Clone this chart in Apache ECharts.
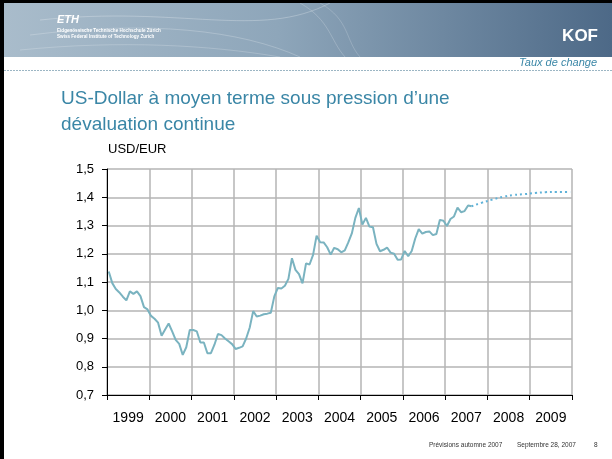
<!DOCTYPE html>
<html>
<head>
<meta charset="utf-8">
<script src="https://cdn.jsdelivr.net/npm/echarts@6/dist/echarts.min.js"></script>
<style>
html,body{margin:0;padding:0;background:#fff;}
#chart{width:612px;height:459px;}
</style>
</head>
<body>
<div id="chart"></div>
<script>
// ---- data (end-of-month USD/EUR) ----
var years = ['1999','2000','2001','2002','2003','2004','2005','2006','2007','2008','2009'];
var rates1999 = [1.137, 1.096, 1.075, 1.063, 1.048, 1.035, 1.067, 1.058, 1.067, 1.050, 1.011, 1.003];
var rates2000 = [0.980, 0.970, 0.956, 0.910, 0.932, 0.953, 0.925, 0.895, 0.881, 0.842, 0.869, 0.930];
var rates2001 = [0.930, 0.925, 0.886, 0.886, 0.848, 0.848, 0.878, 0.916, 0.912, 0.900, 0.890, 0.880];
var rates2002 = [0.863, 0.867, 0.872, 0.900, 0.938, 0.997, 0.978, 0.981, 0.986, 0.988, 0.991, 1.049];
var rates2003 = [1.079, 1.077, 1.087, 1.111, 1.184, 1.143, 1.128, 1.095, 1.166, 1.162, 1.196, 1.264];
var rates2004 = [1.241, 1.240, 1.223, 1.197, 1.221, 1.216, 1.205, 1.212, 1.240, 1.272, 1.327, 1.362];
var rates2005 = [1.303, 1.327, 1.296, 1.294, 1.235, 1.209, 1.214, 1.222, 1.204, 1.200, 1.179, 1.180];
var rates2006 = [1.210, 1.191, 1.210, 1.254, 1.287, 1.271, 1.277, 1.279, 1.266, 1.270, 1.320, 1.317];
var rates2007 = [1.298, 1.323, 1.332, 1.363, 1.347, 1.351, 1.371, 1.368];
// forecast (dotted), month index counted from Jan 1999 = 0
var forecastMonths = [103, 106, 109, 112, 115, 118, 121, 124, 127, 131];
var forecastValues = [1.368, 1.381, 1.392, 1.402, 1.408, 1.411, 1.415, 1.418, 1.419, 1.419];
var yTicks = [0.7, 0.8, 0.9, 1.0, 1.1, 1.2, 1.3, 1.4, 1.5];

// ---- build series ----
var actual = [].concat(rates1999, rates2000, rates2001, rates2002, rates2003,
                       rates2004, rates2005, rates2006, rates2007);
var actualData = actual.map(function (v, i) { return [i + 0.5, v]; });
var forecastData = forecastMonths.map(function (m, i) { return [m + 0.5, forecastValues[i]]; });

var chart = echarts.init(document.getElementById('chart'), null, {renderer: 'canvas'});
var font = '"Liberation Sans", Arial, sans-serif';

var option = {
  backgroundColor: '#ffffff',
  animation: false,
  textStyle: {fontFamily: font},
  title: {
    text: 'US-Dollar à moyen terme sous pression d\u2019une\ndévaluation continue',
    left: 56, top: 81,
    textStyle: {fontFamily: font, fontSize: 19, fontWeight: 'normal', color: '#3a86a6', lineHeight: 26}
  },
  grid: {left: 107, right: 40, top: 169, bottom: 64, containLabel: false},
  xAxis: [{
    type: 'category',
    data: years,
    boundaryGap: true,
    axisLine: {show: true, lineStyle: {color: '#000', width: 1}},
    axisTick: {show: true, length: 5, interval: 0, lineStyle: {color: '#000'}},
    axisLabel: {interval: 0, fontSize: 14, color: '#000', margin: 16, fontFamily: font},
    splitLine: {show: true, interval: 0, lineStyle: {color: '#b4b4b4', width: 1.5}}
  }, {
    type: 'value',
    min: 0, max: 132,
    show: false,
    splitLine: {show: false}
  }],
  yAxis: {
    type: 'value',
    min: 0.7, max: 1.5, interval: 0.1,
    axisLine: {show: true, lineStyle: {color: '#000', width: 1}},
    axisTick: {show: true, length: 5, lineStyle: {color: '#000'}},
    axisLabel: {
      fontSize: 13, color: '#000', margin: 13, fontFamily: font,
      formatter: function (v) { return v.toFixed(1).replace('.', ','); }
    },
    splitLine: {show: true, lineStyle: {color: '#b4b4b4', width: 1.5}}
  },
  series: [{
    type: 'line',
    xAxisIndex: 1,
    data: actualData,
    showSymbol: false,
    lineStyle: {color: '#7ab3c0', width: 2},
    z: 3
  }, {
    type: 'line',
    xAxisIndex: 1,
    data: forecastData,
    showSymbol: false,
    smooth: true,
    lineStyle: {color: '#5fb2d8', width: 2, type: [2, 3]},
    z: 3
  }],
  graphic: [
    // banner
    {type: 'rect', shape: {x: 4, y: 3, width: 608, height: 54}, silent: true,
     style: {fill: {type: 'linear', x: 0, y: 0, x2: 1, y2: 0, colorStops: [
       {offset: 0, color: '#a9bccb'}, {offset: 0.45, color: '#8ea6ba'}, {offset: 1, color: '#4d6987'}]}}},
    {type: 'bezierCurve', shape: {x1: 40, y1: 20, x2: 330, y2: 3, cpx1: 180, cpy1: 5, cpx2: 260, cpy2: 40},
     style: {stroke: 'rgba(255,255,255,0.25)', lineWidth: 1, fill: null}},
    {type: 'bezierCurve', shape: {x1: 30, y1: 35, x2: 300, y2: 57, cpx1: 150, cpy1: 20, cpx2: 240, cpy2: 30},
     style: {stroke: 'rgba(255,255,255,0.22)', lineWidth: 1, fill: null}},
    {type: 'bezierCurve', shape: {x1: 20, y1: 50, x2: 280, y2: 57, cpx1: 120, cpy1: 40, cpx2: 210, cpy2: 45},
     style: {stroke: 'rgba(255,255,255,0.2)', lineWidth: 1, fill: null}},
    {type: 'bezierCurve', shape: {x1: 300, y1: 3, x2: 345, y2: 57, cpx1: 330, cpy1: 20, cpx2: 330, cpy2: 40},
     style: {stroke: 'rgba(255,255,255,0.2)', lineWidth: 1, fill: null}},
    {type: 'bezierCurve', shape: {x1: 320, y1: 3, x2: 360, y2: 57, cpx1: 350, cpy1: 20, cpx2: 345, cpy2: 40},
     style: {stroke: 'rgba(255,255,255,0.18)', lineWidth: 1, fill: null}},
    // ETH logo
    {type: 'text', left: 57, top: 14, silent: true,
     style: {text: 'ETH', fill: '#fff', font: 'italic bold 11px ' + font}},
    {type: 'text', left: 57, top: 28, silent: true,
     style: {text: 'Eidgenössische Technische Hochschule Zürich', fill: '#fff', font: 'bold 4.6px ' + font}},
    {type: 'text', left: 57, top: 34, silent: true,
     style: {text: 'Swiss Federal Institute of Technology Zurich', fill: '#fff', font: 'bold 4.6px ' + font}},
    // KOF
    {type: 'text', right: 14, top: 28, silent: true,
     style: {text: 'KOF', fill: '#fff', font: 'bold 17px ' + font}},
    // Taux de change
    {type: 'text', right: 15, top: 57, silent: true,
     style: {text: 'Taux de change', fill: '#3a86a6', font: 'italic 11px ' + font}},
    {type: 'line', shape: {x1: 4, y1: 70.5, x2: 612, y2: 70.5}, silent: true,
     style: {stroke: '#9cb6c4', lineWidth: 1, lineDash: [2, 1]}},
    // frame
    {type: 'rect', shape: {x: 0, y: 0, width: 612, height: 3}, style: {fill: '#000'}, silent: true},
    {type: 'rect', shape: {x: 0, y: 0, width: 4, height: 459}, style: {fill: '#000'}, silent: true},
    // unit label
    {type: 'text', left: 108, top: 143, silent: true,
     style: {text: 'USD/EUR', fill: '#000', font: '13px ' + font}},
    // footer
    {type: 'text', left: 429, top: 442, silent: true,
     style: {text: 'Prévisions automne 2007', fill: '#333', font: '6.5px ' + font}},
    {type: 'text', left: 517, top: 442, silent: true,
     style: {text: 'Septembre 28, 2007', fill: '#333', font: '6.5px ' + font}},
    {type: 'text', left: 594, top: 442, silent: true,
     style: {text: '8', fill: '#333', font: '6.5px ' + font}}
  ]
};
chart.setOption(option);
</script>
</body>
</html>
